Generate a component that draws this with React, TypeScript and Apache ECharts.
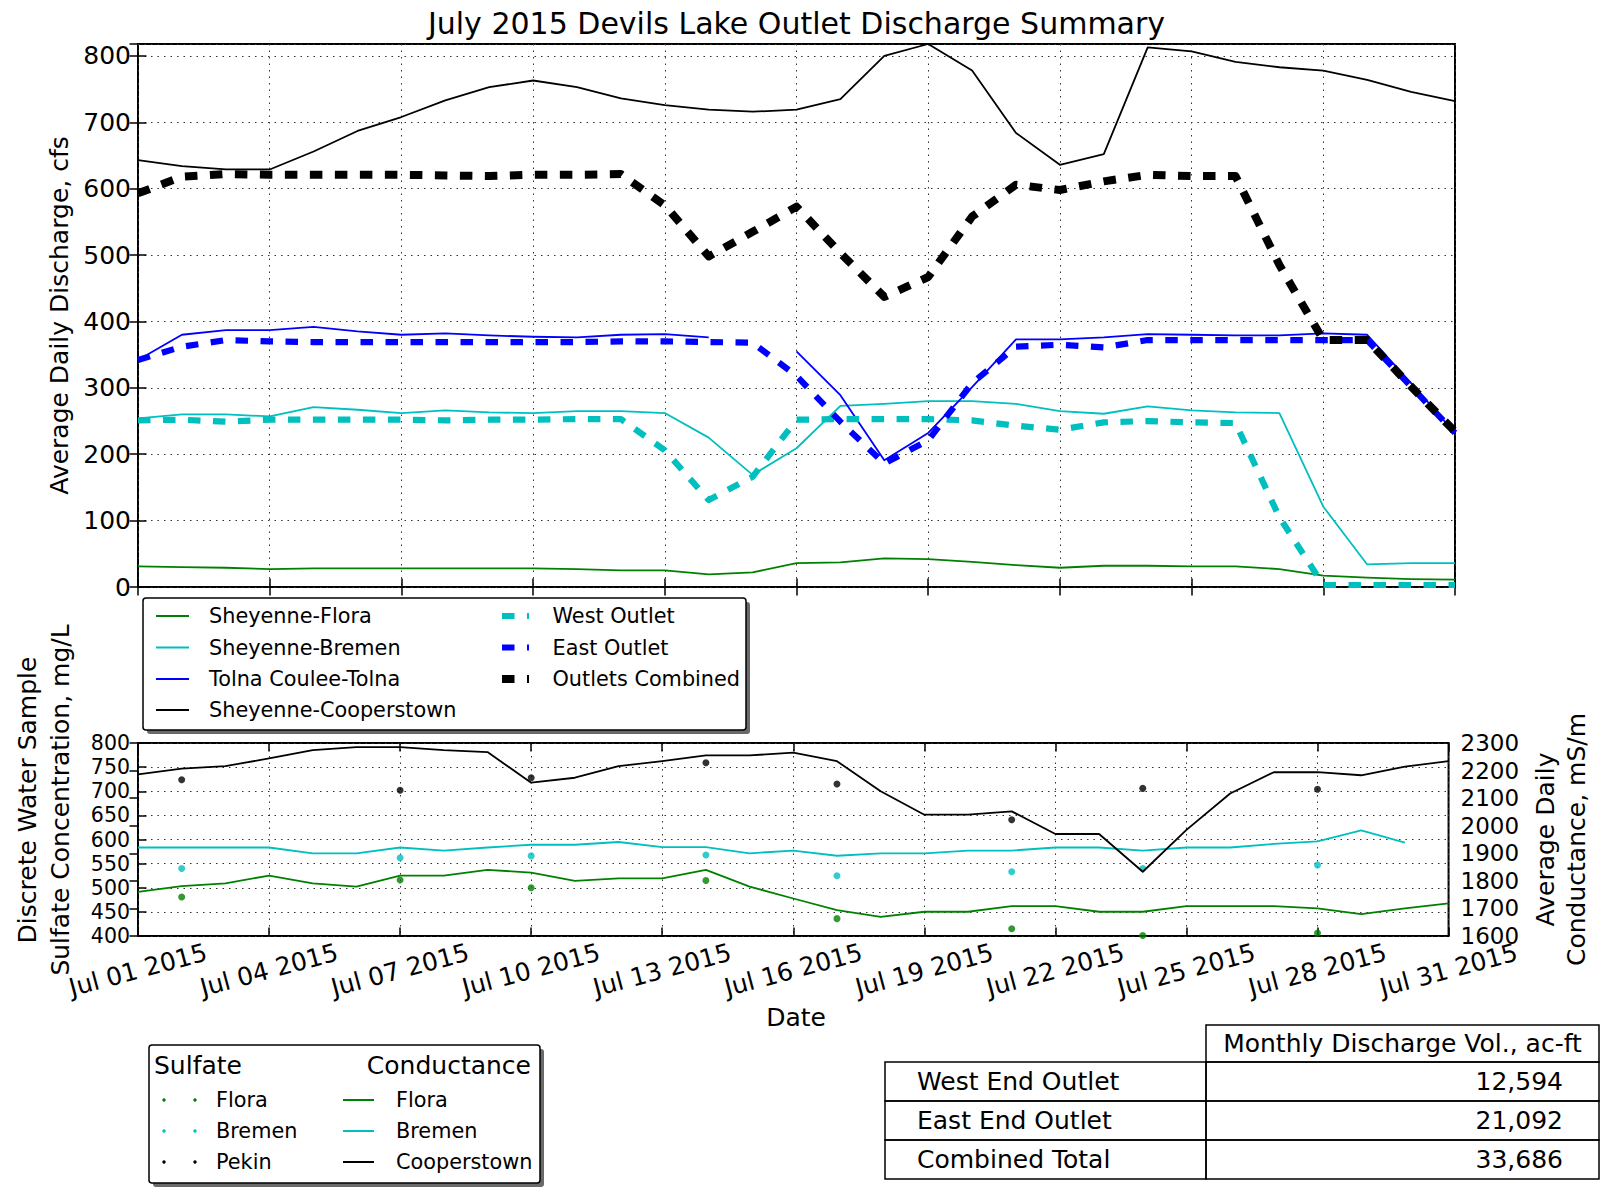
import React, { useEffect, useRef } from "react";
import * as echarts from "echarts";

// ---------------- DATA ----------------
const days = [1, 2, 3, 4, 5, 6, 7, 8, 9, 10, 11, 12, 13, 14, 15, 16, 17, 18, 19, 20, 21, 22, 23, 24, 25, 26, 27, 28, 29, 30, 31];
const MONTH = "Jul";
const YEAR = 2015;
const TITLE = "July 2015 Devils Lake Outlet Discharge Summary";

// Average daily discharge, cfs
const sheyenneFlora = [31, 30, 29, 27, 28, 28, 28, 28, 28, 28, 27, 25, 25, 19, 22, 36, 37, 43, 42, 38, 33, 29, 32, 32, 31, 31, 27, 17, 14, 12, 11];
const sheyenneBremen = [254, 260, 260, 257, 271, 267, 262, 266, 263, 262, 265, 265, 262, 225, 169, 209, 273, 276, 280, 280, 276, 265, 261, 272, 266, 263, 262, 121, 34, 36, 36];
const tolnaCoulee = [342, 380, 387, 387, 392, 385, 380, 382, 379, 377, 376, 380, 381, 376, null, 355, 289, 191, 232, 301, 373, 373, 376, 381, 380, 379, 379, 382, 380, 307, 232];
const sheyenneCooperstown = [643, 634, 629, 629, 656, 687, 708, 733, 753, 763, 753, 736, 726, 719, 716, 719, 735, 800, 818, 778, 684, 636, 652, 813, 807, 791, 783, 778, 764, 746, 732];
const westOutlet = [251, 252, 249, 252, 252, 252, 252, 251, 252, 252, 253, 253, 206, 131, 166, 252, 253, 253, 253, 251, 243, 237, 248, 250, 248, 247, 105, 3, 3, 3, 3];
const eastOutlet = [342, 362, 372, 370, 369, 369, 369, 369, 369, 369, 369, 370, 370, 369, 368, 318, 249, 186, 221, 307, 362, 365, 361, 372, 372, 372, 372, 372, 372, 302, 232];
const outletsCombined = [593, 618, 622, 621, 621, 621, 621, 620, 619, 621, 621, 622, 575, 498, 535, 573, 503, 437, 467, 558, 606, 598, 611, 621, 619, 619, 485, 372, 372, 302, 234];

// Average daily conductance, mS/m
const condFlora = [1760, 1781, 1791, 1819, 1791, 1779, 1819, 1819, 1840, 1830, 1800, 1809, 1809, 1840, 1779, 1736, 1694, 1669, 1688, 1688, 1708, 1708, 1688, 1688, 1708, 1708, 1708, 1700, 1679, 1700, 1718];
const condBremen = [1921, 1921, 1921, 1921, 1900, 1900, 1921, 1910, 1921, 1931, 1931, 1941, 1922, 1922, 1900, 1910, 1891, 1900, 1900, 1910, 1910, 1921, 1921, 1910, 1921, 1921, 1934, 1943, 1983, 1939, null];
const condCooperstown = [2186, 2207, 2216, 2244, 2274, 2285, 2285, 2274, 2267, 2156, 2174, 2216, 2234, 2255, 2255, 2265, 2234, 2125, 2040, 2040, 2052, 1970, 1970, 1833, 1985, 2117, 2194, 2194, 2183, 2214, 2234];

// Discrete water samples, sulfate mg/L
const sampleDays = [2, 7, 10, 14, 17, 21, 24, 28];
const sulfateFlora = [481, 516, 500, 515, 436, 415, 401, 406];
const sulfateBremen = [540, 562, 566, 568, 525, 533, 540, 547];
const sulfatePekin = [724, 702, 728, 759, 715, 641, 706, 704];

// Axis scales
const dayStep = 3;
const dischargeMax = 818;
const dischargeStep = 100;
const sulfateMin = 400;
const sulfateMax = 800;
const sulfateStep = 50;
const condMin = 1600;
const condMax = 2300;
const condStep = 100;

// Table
const tableHeader = "Monthly Discharge Vol., ac-ft";
const tableRowLabels = ["West End Outlet", "East End Outlet", "Combined Total"];
const tableRowValues = [12594, 21092, 33686];

// ---------------- STYLE ----------------
const FONT = "DejaVu Sans";
const GREEN = "#008000";
const CYAN = "#00bfbf";
const BLUE = "#0000ff";
const BLACK = "#000000";
const DASH = [12.5, 12.5];

const G0 = { left: 138, top: 44, width: 1317, height: 543 };
const G1 = { left: 138, top: 743, width: 1317, height: 193 };

const tick = { show: true, inside: true, length: 8.5, lineStyle: { color: "#000", width: 1.5 } };
const gridLine = { show: true, lineStyle: { color: "#333", width: 1, type: [1.5, 5] } };
const labelFont = { fontFamily: FONT, fontSize: 25, color: "#000" };
const plain = (v: number) => String(v);

const lineData = (vals: (number | null)[]) => vals.map((v, i) => [i, v === null ? "-" : v]);
const sampleData = (vals: number[]) => sampleDays.map((d, k) => [days.indexOf(d), vals[k]]);

const dayLabel = (v: number) => {
  const d = days[Math.round(v)];
  return `${MONTH} ${String(d).padStart(2, "0")} ${YEAR}`;
};

function text(t: string, x: number, y: number, size: number, align = "left", extra: any = {}) {
  return {
    type: "text",
    x,
    y,
    rotation: extra.rotation || 0,
    silent: true,
    z: 100,
    style: {
      text: t,
      x: 0,
      y: 0,
      fill: "#000",
      fontSize: size,
      fontFamily: FONT,
      textAlign: align,
      align,
      textVerticalAlign: "middle",
      verticalAlign: "middle",
      lineHeight: extra.lineHeight,
    },
  };
}
function seg(x1: number, y1: number, x2: number, y2: number, color: string, w: number, dash?: number[]) {
  return {
    type: "line",
    silent: true,
    z: 100,
    shape: { x1, y1, x2, y2 },
    style: { stroke: color, lineWidth: w, lineDash: dash || null, lineCap: "butt" },
  };
}
function box(x: number, y: number, w: number, h: number, shadow = false, r = 0) {
  const els: any[] = [];
  if (shadow) {
    els.push({ type: "rect", silent: true, z: 99, shape: { x: x + 4, y: y + 4, width: w, height: h, r }, style: { fill: "#6a6a6a", stroke: null } });
  }
  els.push({ type: "rect", silent: true, z: 99, shape: { x, y, width: w, height: h, r }, style: { fill: shadow ? "#fff" : null, stroke: "#000", lineWidth: 1.5 } });
  return els;
}

function buildGraphics() {
  const els: any[] = [];
  // Top legend
  els.push(...box(143, 598, 603, 132, true, 3));
  const rowsY = [616, 647.5, 679, 710];
  const col1 = [
    { name: "Sheyenne-Flora", color: GREEN },
    { name: "Sheyenne-Bremen", color: CYAN },
    { name: "Tolna Coulee-Tolna", color: BLUE },
    { name: "Sheyenne-Cooperstown", color: BLACK },
  ];
  col1.forEach((it, k) => {
    els.push(seg(156, rowsY[k], 189, rowsY[k], it.color, 1.8));
    els.push(text(it.name, 209, rowsY[k], 20.8));
  });
  const col2 = [
    { name: "West Outlet", color: CYAN, w: 6.2 },
    { name: "East Outlet", color: BLUE, w: 6.2 },
    { name: "Outlets Combined", color: BLACK, w: 8 },
  ];
  col2.forEach((it, k) => {
    els.push(seg(502, rowsY[k], 529, rowsY[k], it.color, it.w, DASH));
    els.push(text(it.name, 552.5, rowsY[k], 20.8));
  });

  // Bottom legend
  els.push(...box(149, 1045, 391, 138, true, 3));
  els.push(text("Sulfate", 154, 1065, 25));
  els.push(text("Conductance", 531, 1065, 25, "right"));
  const r2 = [1100, 1131, 1162];
  const sulf = [
    { name: "Flora", color: GREEN },
    { name: "Bremen", color: CYAN },
    { name: "Pekin", color: BLACK },
  ];
  const cond = [
    { name: "Flora", color: GREEN },
    { name: "Bremen", color: CYAN },
    { name: "Cooperstown", color: BLACK },
  ];
  sulf.forEach((it, k) => {
    [164, 195].forEach((cx) =>
      els.push({ type: "circle", silent: true, z: 100, shape: { cx, cy: r2[k], r: 1.7 }, style: { fill: it.color } })
    );
    els.push(text(it.name, 216, r2[k], 20.8));
  });
  cond.forEach((it, k) => {
    els.push(seg(343, r2[k], 374, r2[k], it.color, 2));
    els.push(text(it.name, 396, r2[k], 20.8));
  });

  // Table
  els.push(...box(1206, 1025, 393, 37));
  els.push(text(tableHeader, 1402.5, 1043.5, 25, "center"));
  tableRowLabels.forEach((lab, k) => {
    const y = 1062 + k * 39;
    els.push(...box(885, y, 321, 39));
    els.push(...box(1206, y, 393, 39));
    els.push(text(lab, 917, y + 19.5, 25));
    els.push(text(tableRowValues[k].toLocaleString("en-US"), 1563, y + 19.5, 25, "right"));
  });

  // Bottom-left two-line axis title
  els.push(
    text("Discrete Water Sample\nSulfate Concentration, mg/L", 44, 800, 25, "center", {
      rotation: Math.PI / 2,
      lineHeight: 33,
    })
  );
  // x-axis title of the lower panel
  els.push(text("Date", 796, 1017, 25, "center"));
  return els;
}

function buildOption() {
  const xBase = { type: "value", min: 0, max: days.length - 1, interval: dayStep, axisLine: { show: false } };
  const topSeries = [
    { name: "Sheyenne-Flora", vals: sheyenneFlora, color: GREEN, w: 1.8, dash: null },
    { name: "Sheyenne-Bremen", vals: sheyenneBremen, color: CYAN, w: 1.8, dash: null },
    { name: "Tolna Coulee-Tolna", vals: tolnaCoulee, color: BLUE, w: 1.8, dash: null },
    { name: "Sheyenne-Cooperstown", vals: sheyenneCooperstown, color: BLACK, w: 1.8, dash: null },
    { name: "West Outlet", vals: westOutlet, color: CYAN, w: 6.2, dash: DASH },
    { name: "East Outlet", vals: eastOutlet, color: BLUE, w: 6.2, dash: DASH },
    { name: "Outlets Combined", vals: outletsCombined, color: BLACK, w: 8, dash: DASH },
  ];
  const condSeries = [
    { name: "Conductance Flora", vals: condFlora, color: GREEN },
    { name: "Conductance Bremen", vals: condBremen, color: CYAN },
    { name: "Conductance Cooperstown", vals: condCooperstown, color: BLACK },
  ];
  const sulfSeries = [
    { name: "Sulfate Flora", vals: sulfateFlora, color: GREEN },
    { name: "Sulfate Bremen", vals: sulfateBremen, color: CYAN },
    { name: "Sulfate Pekin", vals: sulfatePekin, color: BLACK },
  ];

  const series: any[] = [];
  topSeries.forEach((s, k) =>
    series.push({
      type: "line",
      name: s.name,
      xAxisIndex: 0,
      yAxisIndex: 0,
      data: lineData(s.vals),
      showSymbol: false,
      symbol: "none",
      silent: true,
      z: 3 + k,
      lineStyle: { color: s.color, width: s.w, type: s.dash || "solid", cap: "butt", join: "round" },
    })
  );
  sulfSeries.forEach((s) =>
    series.push({
      type: "scatter",
      name: s.name,
      xAxisIndex: 2,
      yAxisIndex: 2,
      data: sampleData(s.vals),
      symbol: "circle",
      symbolSize: 7,
      silent: true,
      z: 2,
      itemStyle: { color: s.color },
    })
  );
  condSeries.forEach((s) =>
    series.push({
      type: "line",
      name: s.name,
      xAxisIndex: 3,
      yAxisIndex: 3,
      data: lineData(s.vals),
      showSymbol: false,
      symbol: "none",
      silent: true,
      z: 4,
      lineStyle: { color: s.color, width: 1.8, join: "round" },
    })
  );

  return {
    animation: false,
    backgroundColor: "#ffffff",
    textStyle: { fontFamily: FONT },
    title: {
      text: TITLE,
      left: 796.5,
      top: 8,
      padding: 0,
      textAlign: "center",
      textStyle: { fontFamily: FONT, fontSize: 30, fontWeight: "normal", color: "#000" },
    },
    grid: [
      { ...G0, show: true, borderColor: "#000", borderWidth: 2, backgroundColor: "transparent", containLabel: false },
      { ...G1, show: true, borderColor: "#000", borderWidth: 2, backgroundColor: "transparent", containLabel: false },
    ],
    xAxis: [
      { ...xBase, gridIndex: 0, position: "bottom", axisTick: tick, axisLabel: { show: false }, splitLine: gridLine },
      { ...xBase, gridIndex: 0, position: "top", axisTick: tick, axisLabel: { show: false }, splitLine: { show: false } },
      {
        ...xBase,
        gridIndex: 1,
        position: "bottom",
        axisTick: tick,
        splitLine: gridLine,
        axisLabel: {
          ...labelFont,
          rotate: 15,
          align: "center",
          verticalAlign: "middle",
          margin: 34,
          showMinLabel: true,
          showMaxLabel: true,
          formatter: dayLabel,
        },
      },
      { ...xBase, gridIndex: 1, position: "top", axisTick: tick, axisLabel: { show: false }, splitLine: { show: false } },
    ],
    yAxis: [
      {
        type: "value",
        gridIndex: 0,
        position: "left",
        min: 0,
        max: dischargeMax,
        interval: dischargeStep,
        axisLine: { show: false },
        axisTick: tick,
        splitLine: gridLine,
        axisLabel: { ...labelFont, margin: 7, showMinLabel: true, showMaxLabel: false, formatter: plain },
        name: "Average Daily Discharge, cfs",
        nameLocation: "middle",
        nameGap: 79,
        nameTextStyle: { ...labelFont, verticalAlign: "middle", align: "center" },
      },
      {
        type: "value",
        gridIndex: 0,
        position: "right",
        min: 0,
        max: dischargeMax,
        interval: dischargeStep,
        axisLine: { show: false },
        axisTick: tick,
        splitLine: { show: false },
        axisLabel: { show: false },
      },
      {
        type: "value",
        gridIndex: 1,
        position: "left",
        min: sulfateMin,
        max: sulfateMax,
        interval: sulfateStep,
        axisLine: { show: false },
        axisTick: tick,
        splitLine: gridLine,
        axisLabel: {
          ...labelFont,
          fontSize: 20.5,
          lineHeight: 20,
          margin: 8,
          showMinLabel: true,
          showMaxLabel: true,
          formatter: plain,
        },
      },
      {
        type: "value",
        gridIndex: 1,
        position: "right",
        min: condMin,
        max: condMax,
        interval: condStep,
        axisLine: { show: false },
        axisTick: tick,
        splitLine: { show: false },
        axisLabel: {
          ...labelFont,
          fontSize: 23,
          lineHeight: 22,
          margin: 12,
          showMinLabel: true,
          showMaxLabel: true,
          formatter: plain,
        },
        name: "Average Daily\nConductance, mS/m",
        nameLocation: "middle",
        nameGap: 106,
        nameTextStyle: { ...labelFont, verticalAlign: "middle", align: "center", lineHeight: 31 },
      },
    ],
    series,
    graphic: { elements: buildGraphics() },
  };
}

export default function App() {
  const ref = useRef<HTMLDivElement>(null);
  useEffect(() => {
    document.body.style.margin = "0";
    if (!ref.current) return;
    const chart = echarts.init(ref.current, null, { renderer: "svg" });
    chart.setOption(buildOption() as any);
    return () => chart.dispose();
  }, []);
  return (
    <div
      ref={ref}
      style={{ position: "absolute", left: 0, top: 0, width: 1600, height: 1188, background: "#fff" }}
    />
  );
}
